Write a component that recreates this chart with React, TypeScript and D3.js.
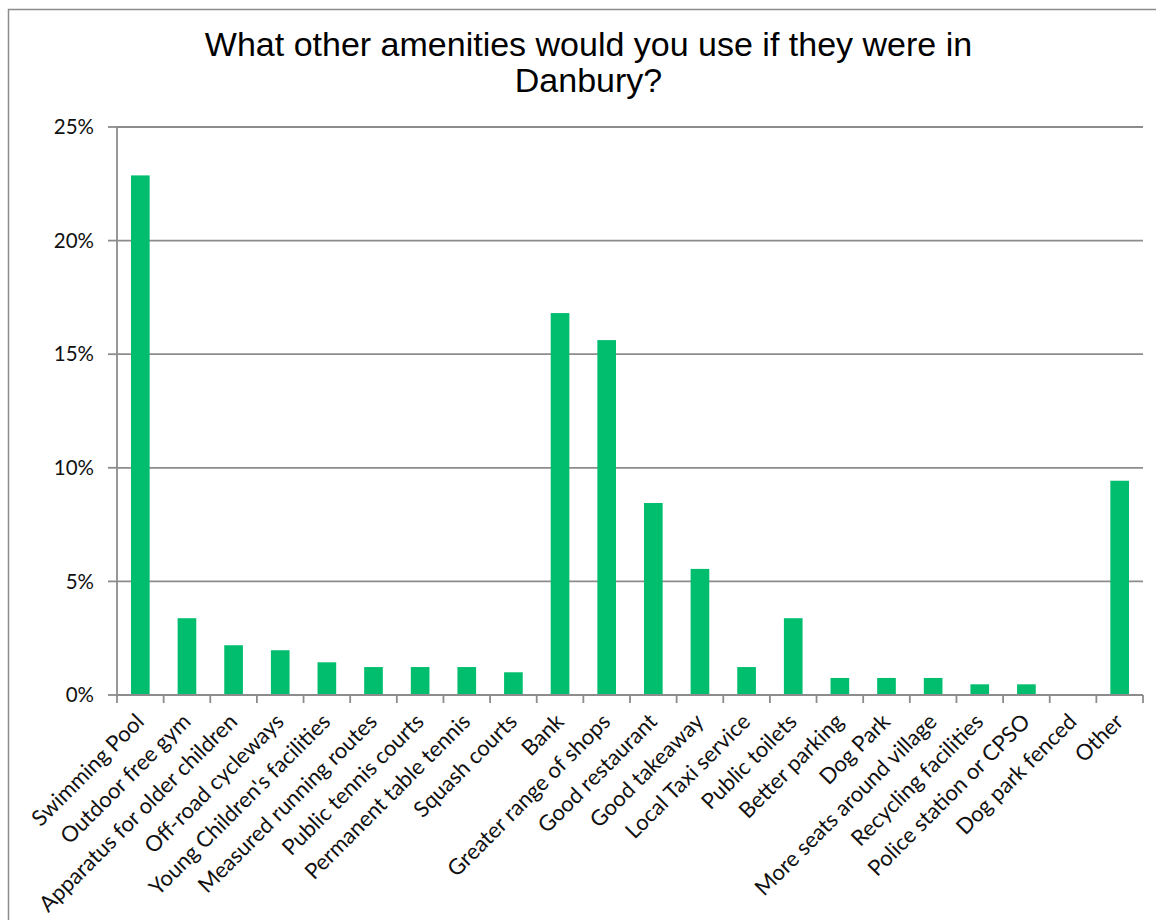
import React from "react";
import * as d3 from "d3";

const categories: string[] = [
  "Swimming Pool",
  "Outdoor free gym",
  "Apparatus for older children",
  "Off-road cycleways",
  "Young Children's facilities",
  "Measured running routes",
  "Public tennis courts",
  "Permanent table tennis",
  "Squash courts",
  "Bank",
  "Greater range of shops",
  "Good restaurant",
  "Good takeaway",
  "Local Taxi service",
  "Public toilets",
  "Better parking",
  "Dog Park",
  "More seats around village",
  "Recycling facilities",
  "Police station or CPSO",
  "Dog park fenced",
  "Other",
];

const values: number[] = [
  22.87, 3.38, 2.19, 1.97, 1.44, 1.23, 1.23, 1.23, 1.0, 16.81, 15.62, 8.45,
  5.55, 1.23, 3.38, 0.75, 0.75, 0.75, 0.47, 0.47, 0, 9.43,
];

const yTicks: number[] = [0, 5, 10, 15, 20, 25];

const titleLines: string[] = [
  "What other amenities would you use if they were in",
  "Danbury?",
];

const W = 1156;
const H = 920;
const left = 117;
const right = 1143;
const top = 127;
const bottom = 695;

export default function App() {
  const x = d3
    .scaleBand<string>()
    .domain(categories)
    .range([left, right])
    .paddingInner(0.6)
    .paddingOuter(0.3);
  const y = d3.scaleLinear().domain([0, 25]).range([bottom, top]);
  const step = x.step();
  const bw = x.bandwidth();
  const boundaries = categories.map((c) => (x(c) as number) - (step - bw) / 2);
  boundaries.push(right);

  const grey = "#8c8c8c";
  const font = "Lato, 'Open Sans', sans-serif";

  return (
    <svg
      width={W}
      height={H}
      style={{ position: "absolute", left: 0, top: 0, background: "#fff" }}
    >
      <rect x={0} y={0} width={W} height={H} fill="#fff" />
      <rect
        x={8.5}
        y={9.5}
        width={1170}
        height={930}
        fill="none"
        stroke={grey}
        strokeWidth={1.5}
      />
      {titleLines.map((t, i) => (
        <text
          key={t}
          x={588.5}
          y={56 + i * 36}
          textAnchor="middle"
          fontFamily="'Liberation Sans', Arial, sans-serif"
          fontSize={34}
          fill="#000"
        >
          {t}
        </text>
      ))}
      {yTicks.map((t) => (
        <g key={t}>
          {t > 0 && (
            <line
              x1={left}
              x2={right}
              y1={y(t)}
              y2={y(t)}
              stroke={grey}
              strokeWidth={1.8}
            />
          )}
          <line
            x1={108}
            x2={left}
            y1={y(t)}
            y2={y(t)}
            stroke={grey}
            strokeWidth={1.8}
          />
          <text
            x={94}
            y={y(t)}
            dy="0.35em"
            textAnchor="end"
            fontFamily={font}
            fontSize={20.5}
            fill="#111"
          >
            {t + "%"}
          </text>
        </g>
      ))}
      {categories.map((c, i) => (
        <rect
          key={c}
          x={x(c)}
          y={y(values[i])}
          width={bw}
          height={bottom - y(values[i])}
          fill="#00BE6E"
        />
      ))}
      <line x1={left} x2={left} y1={top} y2={bottom} stroke={grey} strokeWidth={1.8} />
      <line x1={left} x2={right} y1={bottom} y2={bottom} stroke={grey} strokeWidth={1.8} />
      {boundaries.map((b, i) => (
        <line
          key={i}
          x1={b}
          x2={b}
          y1={bottom}
          y2={bottom + 8}
          stroke={grey}
          strokeWidth={1.8}
        />
      ))}
      {categories.map((c) => {
        const cx = (x(c) as number) + bw / 2;
        return (
          <text
            key={c}
            transform={`translate(${cx + 5},${723}) rotate(-45)`}
            textAnchor="end"
            fontFamily={font}
            fontSize={22}
            fill="#111"
          >
            {c}
          </text>
        );
      })}
    </svg>
  );
}
